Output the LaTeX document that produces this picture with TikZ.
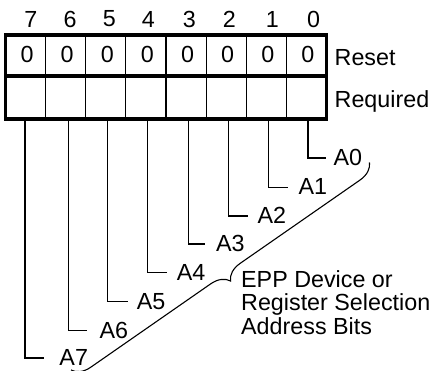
\documentclass[tikz,border=0pt]{standalone}
\usepackage{fontspec}
\setmainfont{Liberation Sans}
\usetikzlibrary{decorations.pathreplacing}
\begin{document}
\begin{tikzpicture}[x=1pt,y=-1pt,
  txt/.style={inner sep=0pt, font=\fontsize{23.3}{23.5}\selectfont},
  gridline/.style={line width=1.1pt},
  frame/.style={line width=3.6pt},
  conn/.style={line width=1.1pt},
  bracestyle/.style={line width=1.1pt, decorate, decoration={brace, amplitude=18pt}}]
\useasboundingbox (0,0) rectangle (432,371);
% grid
\foreach \i in {1,...,7}
  \draw[gridline] ({5.5+40.125*\i},35) -- ({5.5+40.125*\i},119.3);
\draw[frame] (5.5,35) rectangle (326.5,119.3);
\draw[frame] (5.5,76) -- (326.5,76);
% header digits
\foreach \x/\b in {30.8/7,70/6,109.3/5,148.3/4,189.3/3,229.3/2,272.3/1,313.7/0}
  \node[txt] (h\b) at (\x,19) {\b};
% reset values
\foreach \b in {0,...,7}
  \node[txt] (r\b) at ({5.5+40.125*(7-\b)+20.06+1.5},54.5) {0};
\node[txt, anchor=base west] (reset) at (334.5,66) {Reset};
\node[txt, anchor=base west] (required) at (334.5,108) {Required};
% bit lines and labels
\foreach \b/\vx/\sy/\se/\lx in {0/308/158/326/333.3, 1/268.7/187.3/288.3/298.3, 2/228.7/216/248.3/257.3, 3/188.3/244/205/216, 4/147.7/272.7/166.7/176.7, 5/107.7/301.7/128.3/136.7, 6/68.3/330.7/87.3/99.3, 7/25/358/44.3/59.3} {
  \coordinate (top\b) at (\vx,119.3);
  \coordinate (stub\b) at (\se,\sy);
  \node[txt, anchor=base west] (a\b) at (\lx,\sy+7.5) {A\b};
  \draw[conn] (top\b) |- (stub\b);
}
% brace and text
\coordinate (bu) at (369.5,162.5);
\coordinate (bl) at (71,370);
\draw[bracestyle] (bu) -- (bl);
\node[txt, align=left, anchor=north west] (desc) at (241,270) {EPP Device or\\Register Selection\\Address Bits};
\end{tikzpicture}
\end{document}
